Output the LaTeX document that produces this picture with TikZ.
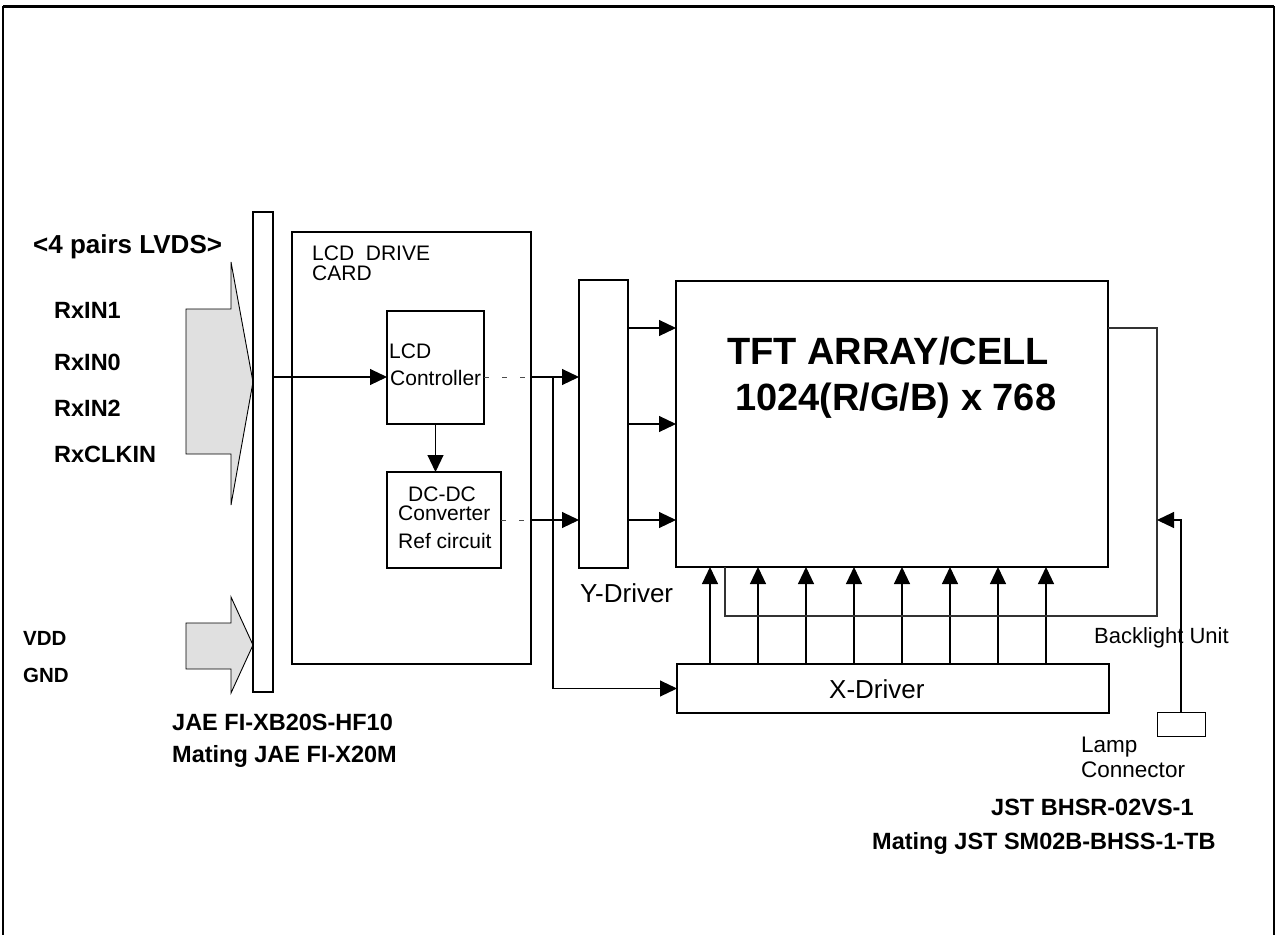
\documentclass[tikz,border=0pt]{standalone}
\usepackage{fontspec}
\setmainfont{Liberation Sans}
\usetikzlibrary{arrows.meta,calc}
\begin{document}
\begin{tikzpicture}[x=1pt,y=-1pt,
  box/.style={draw, line width=2pt, inner sep=0pt, outer sep=0pt},
  conn/.style={line width=1.1pt},
  arr/.style={conn, -{Triangle[length=17pt,width=16pt]}},
  dsh/.style={line width=0.9pt, dash pattern=on 5pt off 13pt, black!70},
  bl/.style={font=\fontsize{23.5}{24}\selectfont\bfseries, anchor=base west, inner sep=0pt},
  tx/.style={font=\fontsize{21}{22}\selectfont, anchor=base west, inner sep=0pt},
  fat/.style={draw, line width=0.9pt, fill=black!12, line join=miter}
]
\useasboundingbox (0,0) rectangle (1278,935);
% outer frame
\draw[line width=3pt] (3,6) -- (1274,6);
\draw[line width=2pt] (3,940) -- (3,6);
\draw[line width=2pt] (1274,940) -- (1274,6);

% gray input arrows
\draw[fat] (186,309) -- (231,309) -- (231,262) -- (253,382) -- (231,505) -- (231,454) -- (186,454) -- cycle;
\draw[fat] (186,623) -- (231,623) -- (231,597) -- (253,645) -- (231,693) -- (231,669) -- (186,669) -- cycle;

% boxes
\node[box, line width=1.5pt, minimum width=20pt, minimum height=480pt] (bar) at (263,452) {};
\node[box, minimum width=239pt, minimum height=432pt] (card) at (411.5,448) {};
\node[box, minimum width=97pt, minimum height=113pt] (ctrl) at (435.5,367.5) {};
\node[box, minimum width=114pt, minimum height=96pt] (dcdc) at (444,520) {};
\node[box, minimum width=49pt, minimum height=288pt] (ydrv) at (603.5,424) {};
\node[box, minimum width=432pt, minimum height=286pt] (tft) at (892,424) {};
\node[box, minimum width=432pt, minimum height=49pt] (xdrv) at (893,688.5) {};
\node[box, line width=1pt, minimum width=48pt, minimum height=24pt] (lamp) at (1181,724) {};

% texts
\node[bl, font=\fontsize{26}{26}\selectfont\bfseries] (t4p) at (33,253) {<4 pairs LVDS>};
\node[bl] (trx1) at (54,318) {RxIN1};
\node[bl] (trx0) at (54,370) {RxIN0};
\node[bl] (trx2) at (54,416) {RxIN2};
\node[bl] (trxc) at (54,462) {RxCLKIN};
\node[bl, font=\fontsize{20.5}{20}\selectfont\bfseries] (tvdd) at (23,645) {VDD};
\node[bl, font=\fontsize{20.5}{20}\selectfont\bfseries] (tgnd) at (23,682) {GND};
\node[bl] (tjae1) at (172,730) {JAE FI-XB20S-HF10};
\node[bl] (tjae2) at (172,762) {Mating JAE FI-X20M};
\node[tx] (tcard1) at (312,260) {LCD~ DRIVE};
\node[tx] (tcard2) at (312,280) {CARD};
\node[tx] (tctl1) at (389,358) {LCD};
\node[tx] (tctl2) at (390,385) {Controller};
\node[tx] (tdc1) at (408,501) {DC-DC};
\node[tx] (tdc2) at (398,520) {Converter};
\node[tx] (tdc3) at (398,548) {Ref circuit};
\node[tx, font=\fontsize{26}{26}\selectfont] (tyd) at (580,602) {Y-Driver};
\node[tx, font=\fontsize{26}{26}\selectfont] (txd) at (829,698) {X-Driver};
\node[bl, font=\fontsize{38}{38}\selectfont\bfseries] (ttft1) at (727,364) {TFT ARRAY/CELL};
\node[bl, font=\fontsize{38}{38}\selectfont\bfseries] (ttft2) at (735,410) {1024(R/G/B) x 768};
\node[tx, font=\fontsize{22}{22}\selectfont] (tbl) at (1094,643) {Backlight Unit};
\node[tx, font=\fontsize{22.5}{22}\selectfont] (tlamp1) at (1081,752) {Lamp};
\node[tx, font=\fontsize{22.5}{22}\selectfont] (tlamp2) at (1081,777) {Connector};
\node[bl] (tjst1) at (991,815) {JST BHSR-02VS-1};
\node[bl] (tjst2) at (872,849) {Mating JST SM02B-BHSS-1-TB};

% connectors
\coordinate (sigY) at (0,377);
\coordinate (tap) at (553,377);
\draw[arr] (bar.east |- sigY) -- (ctrl.west |- sigY);
\draw[arr] (ctrl.south) -- (ctrl.south |- dcdc.north);
\draw[dsh] (ctrl.east |- sigY) -- (card.east |- sigY);
\draw[arr] (card.east |- sigY) -- (ydrv.west |- sigY);
\draw[dsh] (dcdc.east) -- (card.east |- dcdc.east);
\draw[arr] (card.east |- dcdc.east) -- (ydrv.west |- dcdc.east);
\draw[arr] (tap) |- (xdrv.west);

\coordinate (ya) at (0,328);
\coordinate (yb) at (0,424);
\coordinate (yc) at (0,520);
\foreach \c in {ya,yb,yc} {
  \draw[arr] (ydrv.east |- \c) -- (tft.west |- \c);
}
\foreach \i in {0,...,7} {
  \coordinate (xa\i) at (710+48*\i,0);
  \draw[arr] (xdrv.north -| xa\i) -- (tft.south -| xa\i);
}

% backlight loop
\coordinate (bl1) at (725,616);
\coordinate (bl2) at (1157,616);
\coordinate (bl3) at (1157,328);
\coordinate (lampin) at (1157,520);
\draw[conn, black!80] (tft.south -| bl1) -- (bl1) -- (bl2) -- (bl3) -- (tft.east |- bl3);
\draw[arr] (lamp.north) |- (lampin);
\end{tikzpicture}
\end{document}
